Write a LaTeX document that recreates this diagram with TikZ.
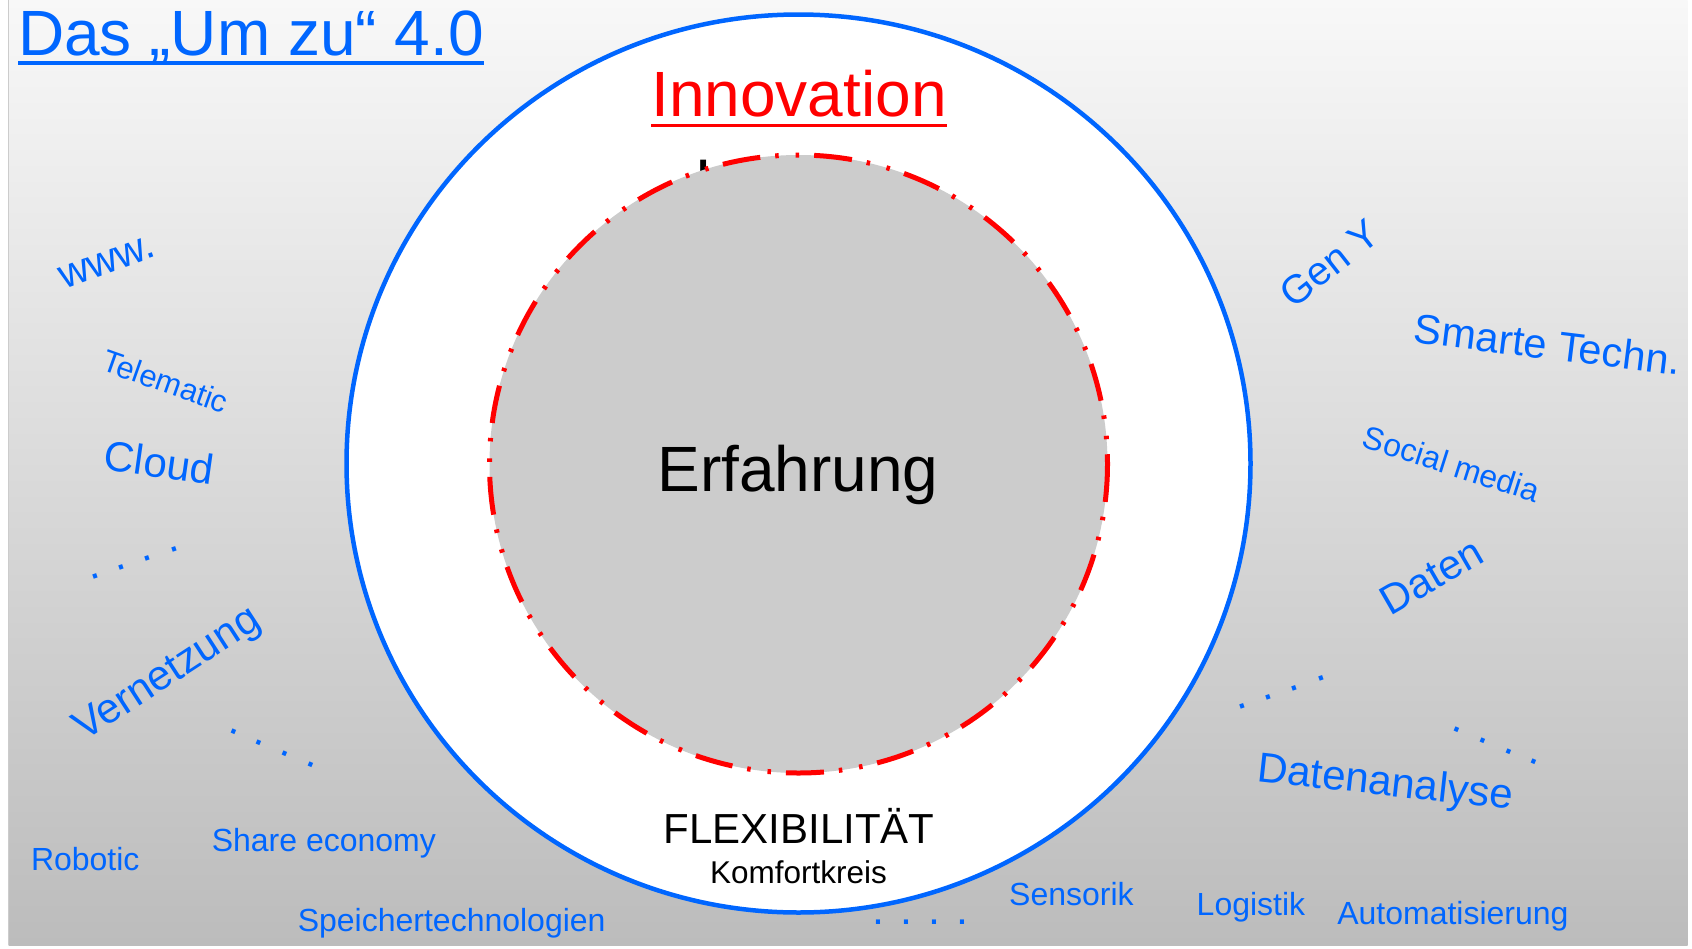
\documentclass[tikz,border=0pt]{standalone}
\usepackage{fontspec}
\setmainfont{Liberation Sans}
\definecolor{myblue}{RGB}{0,102,255}
\definecolor{myred}{RGB}{255,0,0}
\definecolor{bgtop}{RGB}{248,248,248}
\definecolor{bgbot}{RGB}{188,188,188}
\definecolor{innergray}{RGB}{204,204,204}
\newcommand\myfs[1]{\fontsize{#1}{#1}\selectfont}
\begin{document}
\begin{tikzpicture}[x=1pt,y=-1pt,
  word/.style={text=myblue, inner sep=0pt, outer sep=0pt},
  blacktext/.style={text=black, inner sep=0pt, outer sep=0pt},
  dotrow/.style={text=myblue, inner sep=0pt, outer sep=0pt, font=\myfs{43}},
  ringline/.style={draw=myblue, line width=4.5pt},
  dashring/.style={draw=myred, line width=5pt, dash pattern=on 38pt off 15pt on 3.5pt off 17pt on 3.5pt off 15pt}
]
\useasboundingbox (0,0) rectangle (1692,948);
\fill[white] (0,0) rectangle (1692,948);
\shade[top color=bgtop, bottom color=bgbot] (8.5,0) rectangle (1687.5,945);
\draw[black!20, line width=1pt] (8,0) -- (8,945);

% title
\node[word, anchor=base west] (title) at (18,55) {\myfs{64}Das „Um zu“ 4.0};
\draw[myblue, line width=3.5pt] ([yshift=-8pt]title.base west) -- ([yshift=-8pt]title.base east);

% outer ring
\path[ringline, fill=white] (798.5,463.5) ellipse [x radius=452, y radius=449];

% text partly hidden under the inner circle
\node[blacktext, anchor=base west] (lernen) at (695.5,203) {\myfs{63}Lernen};

% inner circle
\fill[innergray] (798.5,464) circle [radius=309];
\path[dashring] (798.5,464) circle [radius=309];

% centre texts
\node[text=myred, inner sep=0pt, anchor=base] (innov) at (799,116.5) {\myfs{64}Innovation};
\draw[myred, line width=3.5pt] ([yshift=-9pt]innov.base west) -- ([yshift=-9pt]innov.base east);
\node[blacktext, anchor=base] (erf) at (798,491) {\myfs{64}Erfahrung};
\node[blacktext, anchor=base] (flex) at (799,843) {\myfs{42}FLEXIBILITÄT};
\node[blacktext, anchor=base] (komf) at (798.5,883) {\myfs{31.5}Komfortkreis};

% left words
\node[word, rotate=20] (www) at (107.5,262.5) {\myfs{41.5}www.};
\node[word, rotate=-19.5] (tele) at (165.5,381.3) {\myfs{31}Telematic};
\node[word, rotate=-8] (cloud) at (159.2,462.3) {\myfs{42}Cloud};
\node[dotrow, rotate=18.7] (dotsA) at (134.7,562.5) {. . . .};
\node[word, rotate=33] (vern) at (168,675.5) {\myfs{42}Vernetzung};
\node[dotrow, rotate=-23.3] (dotsB) at (272.2,748) {. . . .};

% right words
\node[word, rotate=38] (geny) at (1329.5,263.3) {\myfs{40}Gen Y};
\node[word, rotate=-7] (smart) at (1547.5,344.2) {\myfs{41.5}Smarte Techn.};
\node[word, rotate=-17.7] (social) at (1451.7,463.8) {\myfs{32}Social media};
\node[word, rotate=30] (daten) at (1431.2,576.2) {\myfs{41.5}Daten};
\node[dotrow, rotate=19.1] (dotsC) at (1281.7,692.5) {. . . .};
\node[dotrow, rotate=-23.1] (dotsD) at (1495.8,745.8) {. . . .};
\node[word, rotate=-6.3] (dana) at (1385,784.5) {\myfs{42}Datenanalyse};

% bottom words
\node[word, anchor=base west] (robotic) at (31,870.7) {\myfs{32}Robotic};
\node[word, anchor=base west] (share) at (211.8,851.7) {\myfs{32}Share economy};
\node[word, anchor=base west] (speicher) at (297.8,931.7) {\myfs{32}Speichertechnologien};
\node[dotrow] (dotsE) at (920.5,922.3) {. . . .};
\node[word, anchor=base west] (sensorik) at (1009.2,905.7) {\myfs{32}Sensorik};
\node[word, anchor=base west] (logistik) at (1196.7,915) {\myfs{32}Logistik};
\node[word, anchor=base west] (auto) at (1337.3,924) {\myfs{32}Automatisierung};
\end{tikzpicture}
\end{document}
